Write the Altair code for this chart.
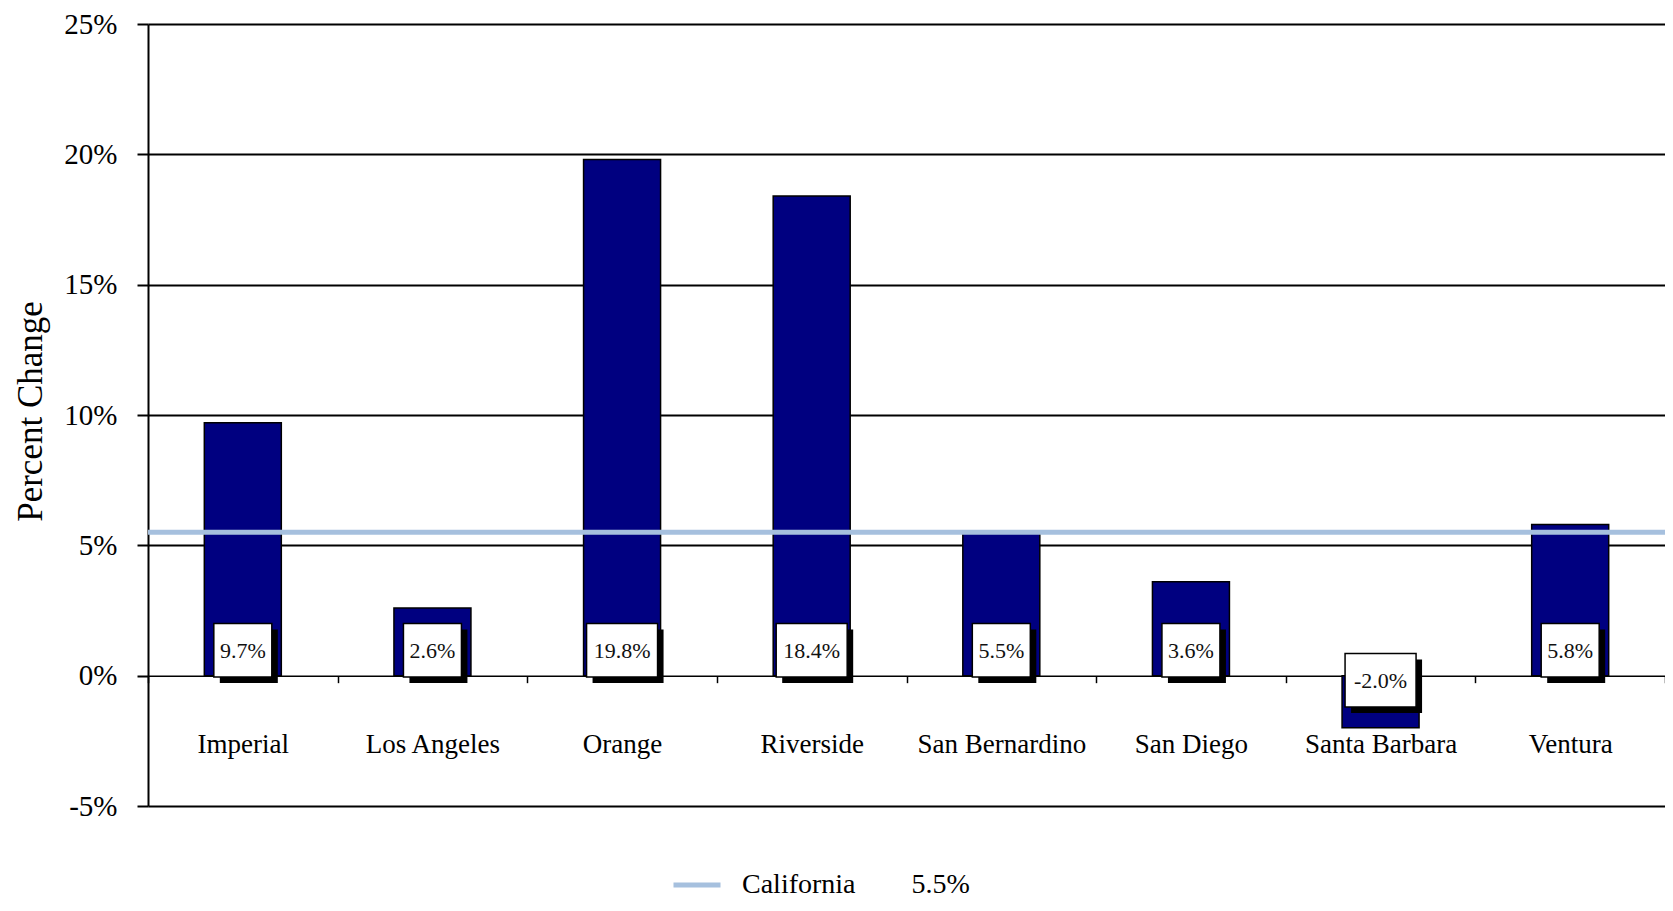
import altair as alt
import pandas as pd

counties = ["Imperial", "Los Angeles", "Orange", "Riverside",
            "San Bernardino", "San Diego", "Santa Barbara", "Ventura"]
changes = [9.7, 2.6, 19.8, 18.4, 5.5, 3.6, -2.0, 5.8]
labels = ["9.7%", "2.6%", "19.8%", "18.4%", "5.5%", "3.6%", "-2.0%", "5.8%"]
state_name = "California"
state_change = 5.5
y_ticks = [-5, 0, 5, 10, 15, 20, 25]
y_domain = [-5, 25]

FONT = "Liberation Serif"
W, H = 1517, 782
NBSP = "\u00a0"

df = pd.DataFrame({"county": counties, "change": changes, "label": labels})
state_df = pd.DataFrame({
    "series": [state_name + NBSP * 8 + f"{state_change}%"],
    "change": [state_change],
})

zero_offset = -H * (0 - y_domain[0]) / (y_domain[1] - y_domain[0])

x_enc = alt.X(
    "county:N", sort=counties,
    scale=alt.Scale(paddingInner=0, paddingOuter=0),
    axis=alt.Axis(
        title=None, offset=zero_offset, tickBand="extent", labelAngle=0,
        labelFont=FONT, labelFontSize=27, labelColor="black", labelPadding=49,
        tickSize=7, tickColor="black", tickWidth=1.5,
        domainColor="black", domainWidth=1.5, grid=False,
    ),
)
x_plain = alt.X("county:N", sort=counties, title=None)
y_scale = alt.Scale(domain=y_domain, nice=False, zero=False)

bars = alt.Chart(df).mark_bar(color="#000080", stroke="black", strokeWidth=1.5, size=77).encode(
    x=x_enc,
    y=alt.Y(
        "change:Q", scale=y_scale,
        axis=alt.Axis(
            values=y_ticks, labelExpr="datum.value + '%'",
            labelFont=FONT, labelFontSize=29, labelColor="black", labelPadding=20,
            tickSize=11, tickColor="black", tickWidth=2,
            domainColor="black", domainWidth=2,
            grid=True, gridColor="black",
            gridWidth={"condition": {"test": "datum.value === 0", "value": 0}, "value": 2},
            titleFont=FONT, titleFontSize=35,
            titleFontWeight="normal", titleColor="black",
            titleX=-118, titleY=387, titleAngle=270,
            titleAlign="center", titleBaseline="middle",
        ),
        title="Percent Change",
    ),
)

boxes_base = alt.Chart(df).transform_calculate(
    box_lo="datum.change < 0 ? -1.2 : -0.05",
).transform_calculate(
    box_hi="datum.box_lo + 2.05",
    box_mid="datum.box_lo + 1.0",
    box_w="length(datum.label) * 13 + 6",
)

shadow = boxes_base.mark_bar(color="black", xOffset=6, yOffset=6, y2Offset=6).encode(
    x=x_plain,
    y=alt.Y("box_hi:Q", scale=y_scale, title="Percent Change"),
    y2="box_lo:Q",
    size=alt.Size("box_w:Q", scale=None, legend=None),
)
boxes = boxes_base.mark_bar(color="white", stroke="black", strokeWidth=1.5).encode(
    x=x_plain,
    y=alt.Y("box_hi:Q", scale=y_scale, title="Percent Change"),
    y2="box_lo:Q",
    size=alt.Size("box_w:Q", scale=None, legend=None),
)
texts = boxes_base.mark_text(font=FONT, fontSize=22, color="#111").encode(
    x=x_plain,
    y=alt.Y("box_mid:Q", scale=y_scale, title="Percent Change"),
    text="label:N",
)

rule = alt.Chart(state_df).mark_rule(strokeWidth=5).encode(
    y=alt.Y("change:Q", scale=y_scale, title="Percent Change"),
    stroke=alt.Stroke(
        "series:N", scale=alt.Scale(range=["#A6C0DE"]),
        legend=alt.Legend(
            orient="none", legendX=523, legendY=835, title=None,
            symbolType="stroke", symbolStrokeWidth=5, symbolSize=2209,
            labelFont=FONT, labelFontSize=28, labelColor="black",
            labelOffset=19, labelLimit=0, padding=0,
        ),
    ),
)

chart = alt.layer(bars, shadow, boxes, texts, rule).properties(
    width=W, height=H,
    padding={"left": 140, "top": 16, "right": 0, "bottom": 97},
    autosize=alt.AutoSizeParams(type="none"),
).configure_view(stroke=None)

chart.save("out.html", embed_options={"renderer": "svg", "actions": False})
